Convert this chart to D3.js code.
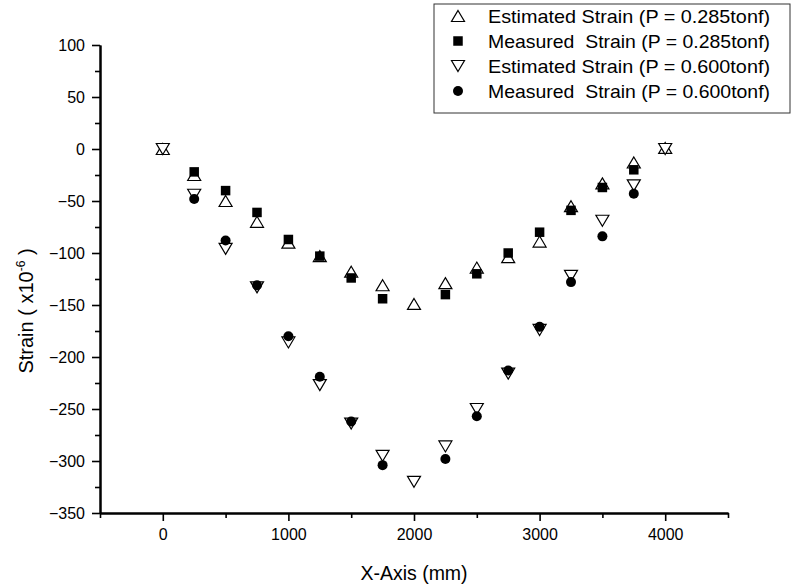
<!DOCTYPE html>
<html><head><meta charset="utf-8">
<script src="https://cdn.jsdelivr.net/npm/d3@7"></script>
<style>body{margin:0;background:#fff}</style>
</head><body><svg id="c" width="794" height="588"></svg>
<script>
const xPositions = [0,250,500,750,1000,1250,1500,1750,2000,2250,2500,2750,3000,3250,3500,3750,4000];
const estimated285 = [0,-25,-50,-70,-90,-103,-118,-131,-149,-129,-114,-104,-89,-55,-33,-13,1];
const measured285  = [null,-22,-40,-61,-87,-103,-124,-144,null,-140,-120,-100,-80,-59,-37,-20,null];
const estimated600 = [0,-44,-96,-133,-186,-227,-264,-295,-320,-286,-250,-216,-174,-122,-69,-35,0];
const measured600  = [null,-48,-88,-131,-180,-219,-262,-304,null,-298,-257,-213,-171,-128,-84,-43,null];
const xMajorTicks = [0,1000,2000,3000,4000];
const xMinorTicks = [-500,500,1500,2500,3500,4500];
const yMajorTicks = [100,50,0,-50,-100,-150,-200,-250,-300,-350];
const yMinorTicks = [75,25,-25,-75,-125,-175,-225,-275,-325];
const legendLabels = ["Estimated Strain (P = 0.285tonf)","Measured  Strain (P = 0.285tonf)","Estimated Strain (P = 0.600tonf)","Measured  Strain (P = 0.600tonf)"];

const svg = d3.select("#c");
const FONT = "Liberation Sans, Arial, sans-serif";
const x = d3.scaleLinear().domain([-500,4500]).range([100,728]);
const y = d3.scaleLinear().domain([-350,100]).range([513,45]);

const triUp = {draw(ctx,s){const w=13,h=11;ctx.moveTo(0,-h/2);ctx.lineTo(w/2,h/2);ctx.lineTo(-w/2,h/2);ctx.closePath();}};
const triDown = {draw(ctx,s){const w=13,h=11;ctx.moveTo(0,h/2);ctx.lineTo(w/2,-h/2);ctx.lineTo(-w/2,-h/2);ctx.closePath();}};
const square = {draw(ctx,s){const a=9.5;ctx.rect(-a/2,-a/2,a,a);}};
const circle = {draw(ctx,s){const r=5;ctx.moveTo(r,0);ctx.arc(0,0,r,0,2*Math.PI);}};

const series = [
  {vals: estimated285, shape: triUp, fill:"#fff", stroke:"#000"},
  {vals: measured285, shape: square, fill:"#000", stroke:"none"},
  {vals: estimated600, shape: triDown, fill:"#fff", stroke:"#000"},
  {vals: measured600, shape: circle, fill:"#000", stroke:"none"}
];

const fmt = d3.format("d");
const gx = svg.append("g").attr("transform",`translate(0,${y(-350)})`);
gx.call(d3.axisBottom(x).tickValues(xMajorTicks).tickSize(8).tickSizeOuter(0).tickPadding(8).tickFormat(fmt));
const gxm = svg.append("g").attr("transform",`translate(0,${y(-350)})`);
gxm.call(d3.axisBottom(x).tickValues(xMinorTicks).tickSize(5).tickSizeOuter(0).tickFormat(""));
const gy = svg.append("g").attr("transform",`translate(${x(-500)},0)`);
gy.call(d3.axisLeft(y).tickValues(yMajorTicks).tickSize(8).tickSizeOuter(0).tickPadding(7).tickFormat(fmt));
const gym = svg.append("g").attr("transform",`translate(${x(-500)},0)`);
gym.call(d3.axisLeft(y).tickValues(yMinorTicks).tickSize(5).tickSizeOuter(0).tickFormat(""));
svg.selectAll(".domain").attr("stroke","#000").attr("stroke-width",2);
svg.selectAll(".tick line").attr("stroke","#000").attr("stroke-width",1.6);
svg.selectAll(".tick text").attr("font-family",FONT).attr("font-size",16).attr("fill","#000");

svg.append("text").attr("x",(x(-500)+x(4500))/2).attr("y",580).attr("text-anchor","middle")
  .attr("font-family",FONT).attr("font-size",19.5).text("X-Axis (mm)");
const yt = svg.append("text").attr("transform",`translate(33,311) rotate(-90)`)
  .attr("text-anchor","middle").attr("font-family",FONT).attr("font-size",20);
yt.append("tspan").text("Strain ( x10");
yt.append("tspan").attr("font-size",12).attr("dy",-8).text("-6");
yt.append("tspan").attr("dy",8).text(" )");

series.forEach(s=>{
  svg.append("g").selectAll("path").data(xPositions.map((xv,i)=>({xv,v:s.vals[i]})).filter(d=>d.v!==null))
    .join("path")
    .attr("d", d3.symbol().type(s.shape))
    .attr("transform", d=>`translate(${x(d.xv)},${y(d.v)})`)
    .attr("fill", s.fill).attr("stroke", s.stroke).attr("stroke-width",1.2);
});

const lg = svg.append("g");
lg.append("rect").attr("x",434).attr("y",4).attr("width",356).attr("height",109)
  .attr("fill","#fff").attr("stroke","#333").attr("stroke-width",1);
legendLabels.forEach((t,i)=>{
  const cy = 16 + i*25;
  lg.append("path").attr("d", d3.symbol().type(series[i].shape)).attr("transform",`translate(458,${cy})`)
    .attr("fill",series[i].fill).attr("stroke",series[i].stroke).attr("stroke-width",1.2);
  lg.append("text").attr("x",488).attr("y",cy+6.5).attr("font-family",FONT).attr("font-size",18.5)
    .attr("textLength",282).attr("lengthAdjust","spacingAndGlyphs")
    .style("white-space","pre").text(t);
});
</script></body></html>
